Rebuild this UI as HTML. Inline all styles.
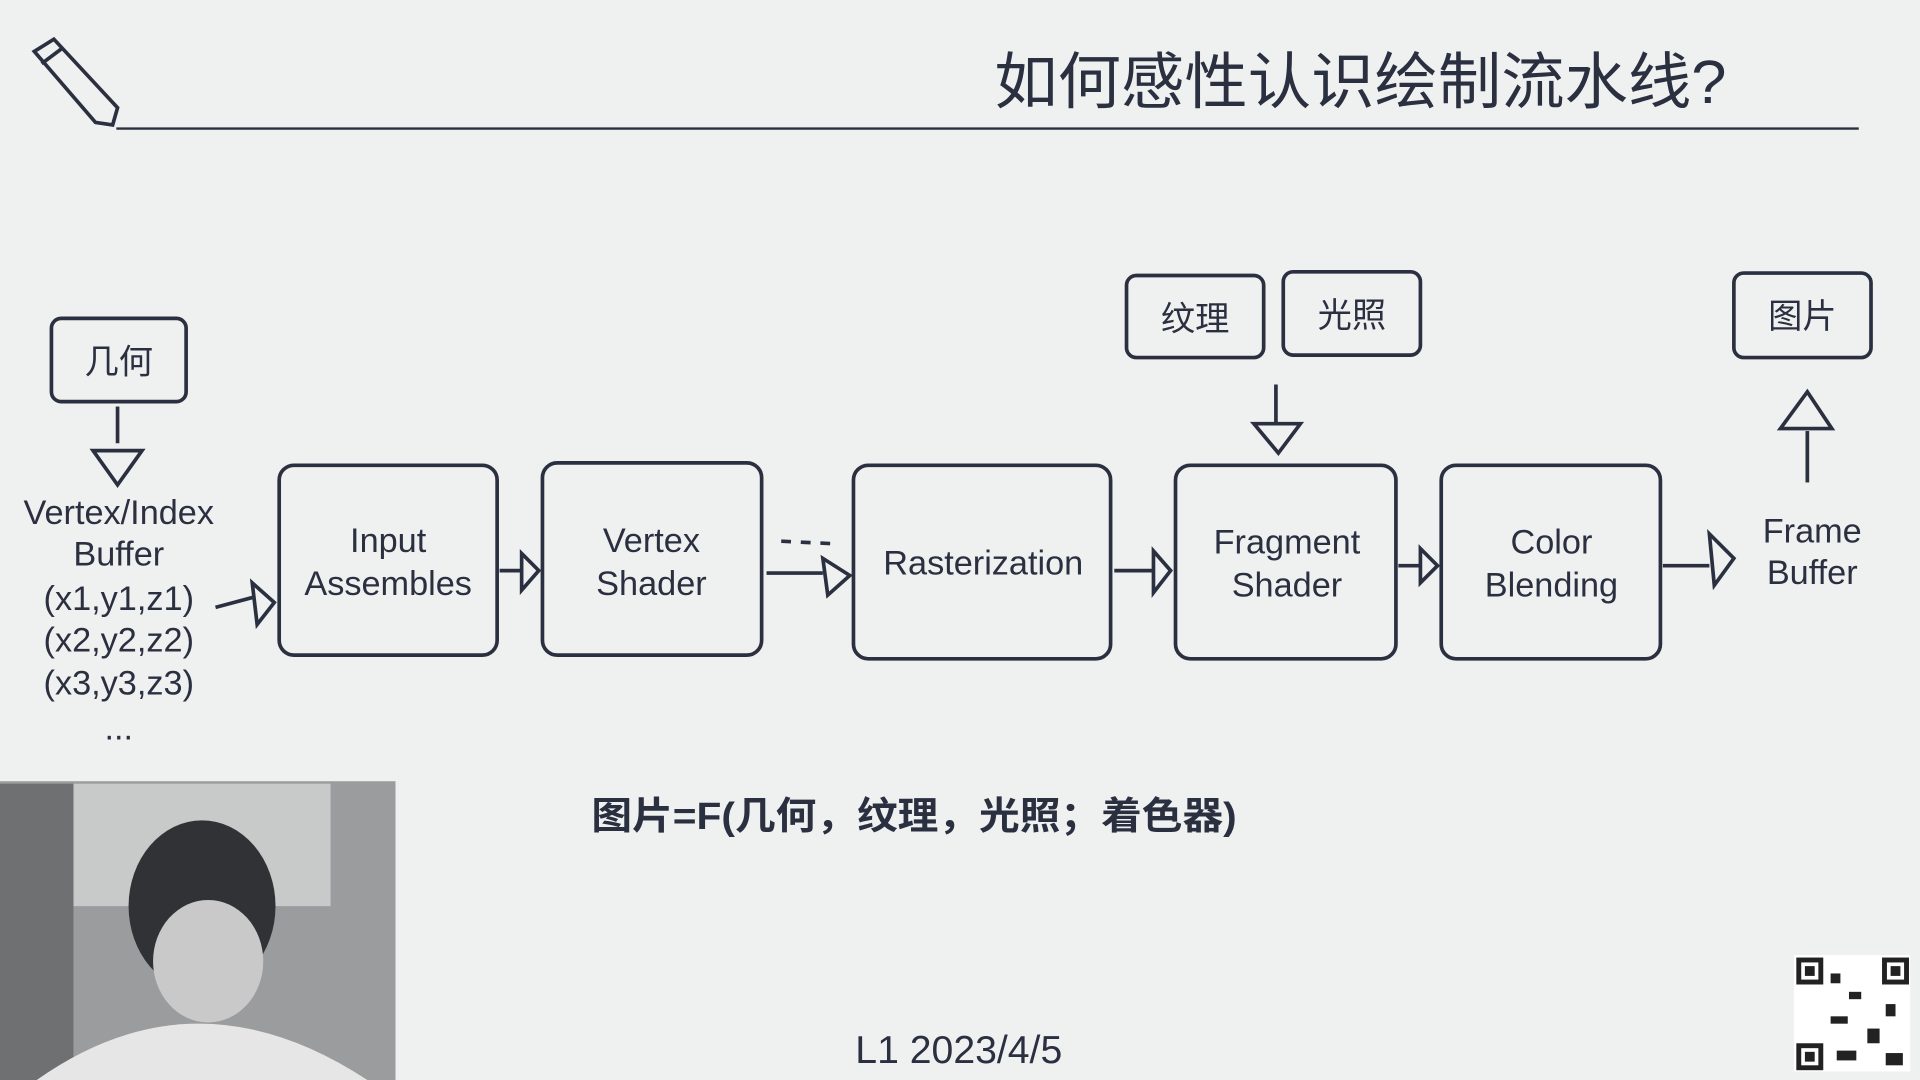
<!DOCTYPE html>
<html><head><meta charset="utf-8"><style>
html,body{margin:0;padding:0;background:#eff1f0;}
svg{display:block}
text{font-family:"Liberation Sans","Noto Sans CJK SC",sans-serif;fill:#2b3040}
</style></head><body>
<svg width="1920" height="1080" viewBox="0 0 1568 882" xmlns="http://www.w3.org/2000/svg">
<rect width="1568" height="882" fill="#eff1f0"/>
<g stroke="#2b3040" stroke-width="3" fill="none">
<path d="M28 42 L44 32 L96 88 L92 102 L78 100 Z"/>
<path d="M34 52 L50 40"/>
</g>
<line x1="95" y1="105" x2="1518" y2="105" stroke="#2b3040" stroke-width="2"/>
<text x="812" y="84" font-size="50" textLength="598" lengthAdjust="spacingAndGlyphs">如何感性认识绘制流水线?</text>
<g stroke="#2b3040" stroke-width="3" fill="none">
<rect x="42" y="260" width="110" height="68" rx="8"/>
<rect x="920" y="225" width="112" height="67" rx="8"/>
<rect x="1048" y="222" width="112" height="68" rx="8"/>
<rect x="1416" y="223" width="112" height="69" rx="8"/>
<rect x="228" y="380" width="178" height="155" rx="12"/>
<rect x="443" y="378" width="179" height="157" rx="12"/>
<rect x="697" y="380" width="210" height="158" rx="12"/>
<rect x="960" y="380" width="180" height="158" rx="12"/>
<rect x="1177" y="380" width="179" height="158" rx="12"/>
<path d="M96 332 V362"/><path d="M76 368 L116 368 L96 396 Z"/>
<path d="M176 496 L206 488"/><path d="M206 476 L224 492 L210 510 Z"/>
<path d="M408 466 L426 466"/><path d="M426 452 L440 466 L426 482 Z"/>
<path d="M638 442 L680 444" stroke-dasharray="8 8"/>
<path d="M626 468 L672 468"/><path d="M672 456 L694 470 L676 486 Z"/>
<path d="M910 466 L942 466"/><path d="M942 450 L956 466 L942 484 Z"/>
<path d="M1142 462 L1160 462"/><path d="M1160 448 L1174 462 L1160 476 Z"/>
<path d="M1358 462 L1396 462"/><path d="M1396 436 L1416 456 L1400 478 Z"/>
<path d="M1042 314 V346"/><path d="M1024 346 L1062 346 L1044 370 Z"/>
<path d="M1476 394 V352"/><path d="M1454 350 L1476 320 L1496 350 Z"/>
</g>
<g font-size="28" text-anchor="middle">
<text x="97" y="305">几何</text>
<text x="976" y="270">纹理</text>
<text x="1104" y="267">光照</text>
<text x="1472" y="268">图片</text>
<text x="97" y="428">Vertex/Index</text>
<text x="97" y="462">Buffer</text>
<text x="97" y="498">(x1,y1,z1)</text>
<text x="97" y="532">(x2,y2,z2)</text>
<text x="97" y="567">(x3,y3,z3)</text>
<text x="97" y="604">...</text>
<text x="317" y="451">Input</text>
<text x="317" y="486">Assembles</text>
<text x="532" y="451">Vertex</text>
<text x="532" y="486">Shader</text>
<text x="803" y="469">Rasterization</text>
<text x="1051" y="452">Fragment</text>
<text x="1051" y="487">Shader</text>
<text x="1267" y="452">Color</text>
<text x="1267" y="487">Blending</text>
<text x="1480" y="443">Frame</text>
<text x="1480" y="477">Buffer</text>
</g>
<text x="483" y="677" font-size="31" font-weight="bold" textLength="527" lengthAdjust="spacingAndGlyphs">图片=F(几何，纹理，光照；着色器)</text>
<text x="783" y="868" font-size="32" text-anchor="middle">L1 2023/4/5</text>
<rect x="0" y="638" width="323" height="244" fill="#9a9c9e"/>
<rect x="60" y="640" width="210" height="100" fill="#c8c9c9"/>
<rect x="0" y="640" width="60" height="242" fill="#6e7072"/>
<ellipse cx="165" cy="740" rx="60" ry="70" fill="#303235"/>
<ellipse cx="170" cy="785" rx="45" ry="50" fill="#c9c9c9"/>
<path d="M30 882 Q160 790 300 882 Z" fill="#e6e6e6"/>
<rect x="1465" y="780" width="95" height="95" fill="#fff"/>
<g fill="#222">
<rect x="1467" y="782" width="22" height="22"/><rect x="1537" y="782" width="22" height="22"/><rect x="1467" y="852" width="22" height="22"/>
<rect x="1495" y="795" width="8" height="8"/><rect x="1510" y="810" width="10" height="6"/><rect x="1495" y="830" width="14" height="6"/>
<rect x="1525" y="840" width="10" height="12"/><rect x="1540" y="820" width="8" height="10"/><rect x="1500" y="858" width="16" height="8"/><rect x="1540" y="860" width="14" height="10"/>
</g>
<g fill="#fff"><rect x="1471" y="786" width="14" height="14"/><rect x="1541" y="786" width="14" height="14"/><rect x="1471" y="856" width="14" height="14"/></g>
<g fill="#222"><rect x="1474" y="789" width="8" height="8"/><rect x="1544" y="789" width="8" height="8"/><rect x="1474" y="859" width="8" height="8"/></g>
</svg>
</body></html>
